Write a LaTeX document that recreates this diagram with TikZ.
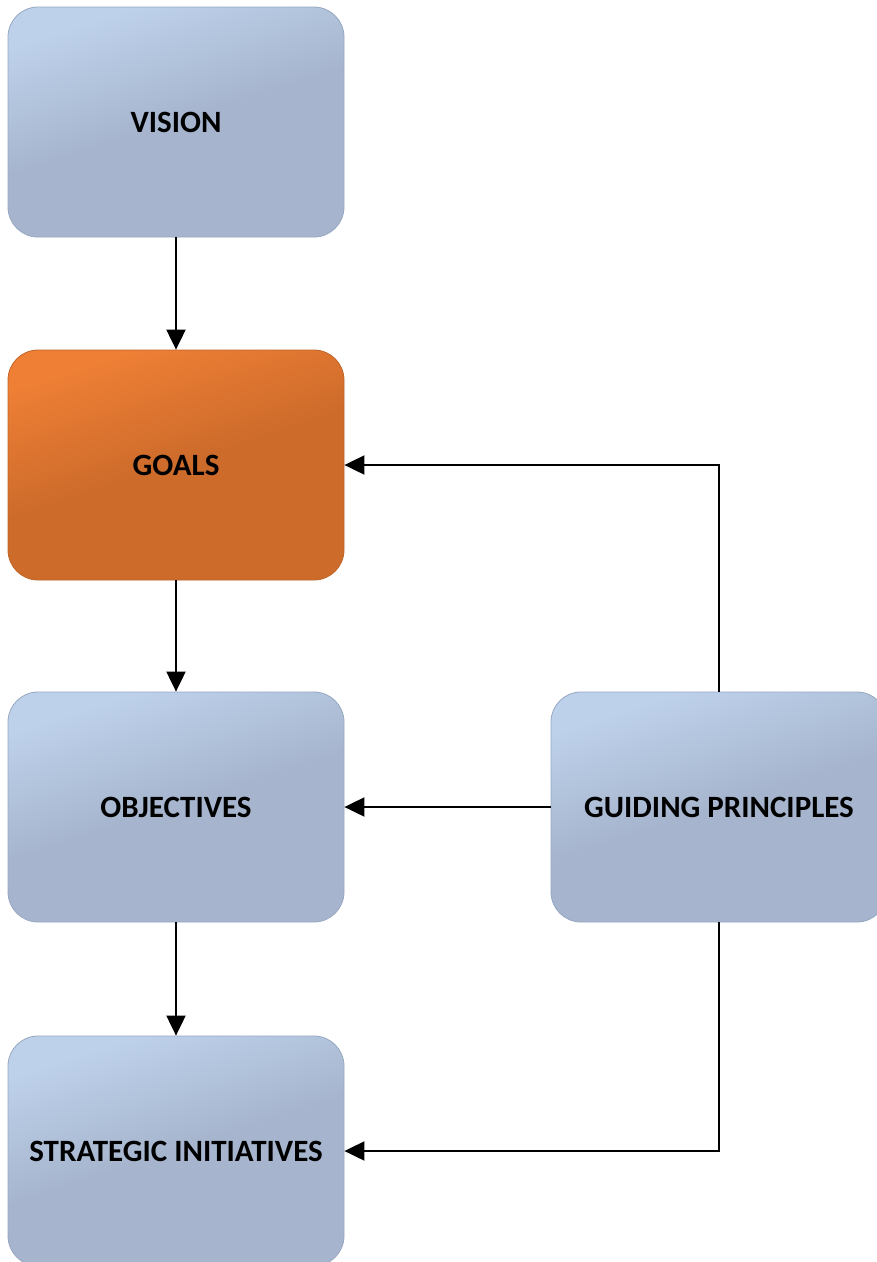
\documentclass[tikz,border=0pt]{standalone}
\usepackage{fontspec}
\setmainfont{Carlito}
\usetikzlibrary{arrows.meta}
\definecolor{bluelight}{HTML}{BED1EB}
\definecolor{bluedark}{HTML}{A6B5CD}
\definecolor{orlight}{HTML}{EE7F35}
\definecolor{ordark}{HTML}{CD6B2B}
\definecolor{blueborder}{HTML}{96A8C1}
\definecolor{orborder}{HTML}{BF6529}
\pgfdeclareverticalshading{blueshade}{100bp}{color(0bp)=(bluedark); color(50bp)=(bluedark); color(74bp)=(bluelight); color(100bp)=(bluelight)}
\pgfdeclareverticalshading{orshade}{100bp}{color(0bp)=(ordark); color(50bp)=(ordark); color(74bp)=(orlight); color(100bp)=(orlight)}
\tikzset{
  box/.style={rectangle, rounded corners=30pt, minimum width=336pt, minimum height=230pt,
    inner sep=0pt, font=\fontsize{31}{35}\selectfont\bfseries, text=black, line width=0.8pt},
  bluebox/.style={box, draw=blueborder, shading=blueshade, shading angle=18},
  orbox/.style={box, draw=orborder, shading=orshade, shading angle=18},
  arr/.style={line width=2pt, draw=black, -{Triangle[length=20pt,width=19pt]}}
}
\begin{document}
\begin{tikzpicture}[x=1pt,y=-1pt]
\path[use as bounding box] (0,0) rectangle (877,1262);
\clip (0,0) rectangle (877,1262);
\node[bluebox] (vision) at (176,122) {VISION};
\node[orbox] (goals) at (176,465) {GOALS};
\node[bluebox] (obj) at (176,807) {OBJECTIVES};
\node[bluebox] (si) at (176,1151) {STRATEGIC INITIATIVES};
\node[bluebox] (gp) at (719,807) {GUIDING PRINCIPLES};
\draw[arr] (vision) -- (goals);
\draw[arr] (goals) -- (obj);
\draw[arr] (obj) -- (si);
\draw[arr] (gp.north) |- (goals.east);
\draw[arr] (gp.west) -- (obj.east);
\draw[arr] (gp.south) |- (si.east);
\end{tikzpicture}
\end{document}
